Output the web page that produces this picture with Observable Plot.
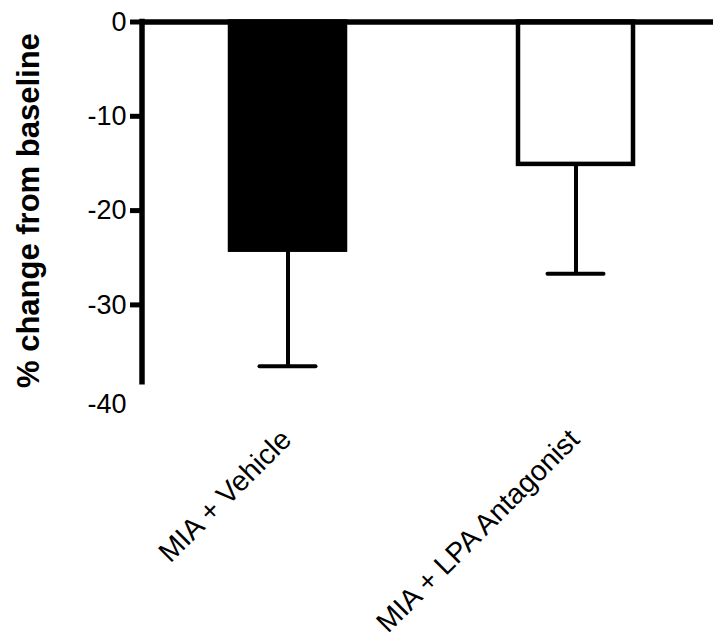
<!DOCTYPE html>
<html>
<head>
<meta charset="utf-8">
<script src="https://cdn.jsdelivr.net/npm/d3@7"></script>
<script src="https://cdn.jsdelivr.net/npm/@observablehq/plot@0.6"></script>
<style>
  html, body { margin: 0; padding: 0; background: #fff; }
  #chart svg { display: block; }
</style>
</head>
<body>
<div id="chart"></div>
<script>
// ---- data ----
const groups = ["MIA + Vehicle", "MIA + LPA Antagonist"];
const means = [-24.2, -15.1];
const sems = [12.3, 11.6];
const fills = ["black", "white"];
const yTicks = [0, -10, -20, -30];
const yLastLabel = [-40];
const yAxisEnd = -38.5;
const yLabel = "% change from baseline";

const data = groups.map((g, i) => ({group: g, mean: means[i], sem: sems[i], fill: fills[i]}));

// y-axis line drawn through the library's y scale
function yAxisLine(index, scales, values, dimensions, context) {
  const y = scales.y;
  const x0 = dimensions.marginLeft;
  const line = d3.create("svg:line")
    .attr("x1", x0).attr("x2", x0)
    .attr("y1", y(0) - 2.75).attr("y2", y(yAxisEnd))
    .attr("stroke", "black").attr("stroke-width", 5.5);
  return line.node();
}

const fmt = d => `${d}`;

const chart = Plot.plot({
  width: 713,
  height: 638,
  marginTop: 21.5,
  marginBottom: 239.3,
  marginLeft: 142,
  marginRight: 0,
  style: {fontFamily: "'Liberation Sans', Arial, sans-serif", background: "white", color: "black"},
  x: {domain: groups, paddingInner: 0.6, paddingOuter: 0.2886, align: 0.523, axis: null},
  y: {domain: [-40, 0], axis: null, label: null},
  color: {type: "identity"},
  marks: [
    Plot.barY(data, {x: "group", y: "mean", fill: "fill", stroke: "black", strokeWidth: 4.5}),
    Plot.ruleX(data, {x: "group", y1: "mean", y2: d => d.mean - d.sem, stroke: "black", strokeWidth: 4}),
    Plot.tickY(data, {x: "group", y: d => d.mean - d.sem, stroke: "black", strokeWidth: 4, inset: 29.5, strokeLinecap: "round"}),
    Plot.ruleY([0], {stroke: "black", strokeWidth: 5.5}),
    yAxisLine,
    Plot.axisY(yTicks, {tickSize: 12, tickPadding: 4, strokeWidth: 5, fontSize: 27, tickFormat: fmt, label: null}),
    Plot.axisY(yLastLabel, {tickSize: 0, tickPadding: 16, dy: 5, fontSize: 27, tickFormat: fmt, label: null}),
    Plot.text([yLabel], {text: d => d, frameAnchor: "left", dx: -113, rotate: -90, textAnchor: "middle", fontWeight: "bold", fontSize: 31, lineAnchor: "middle"}),
    Plot.text(groups, {x: d => d, text: d => d, frameAnchor: "bottom", dx: 5, dy: 42, rotate: -45, textAnchor: "end", lineAnchor: "bottom", fontSize: 28.5})
  ]
});
document.getElementById("chart").appendChild(chart);
</script>
</body>
</html>
